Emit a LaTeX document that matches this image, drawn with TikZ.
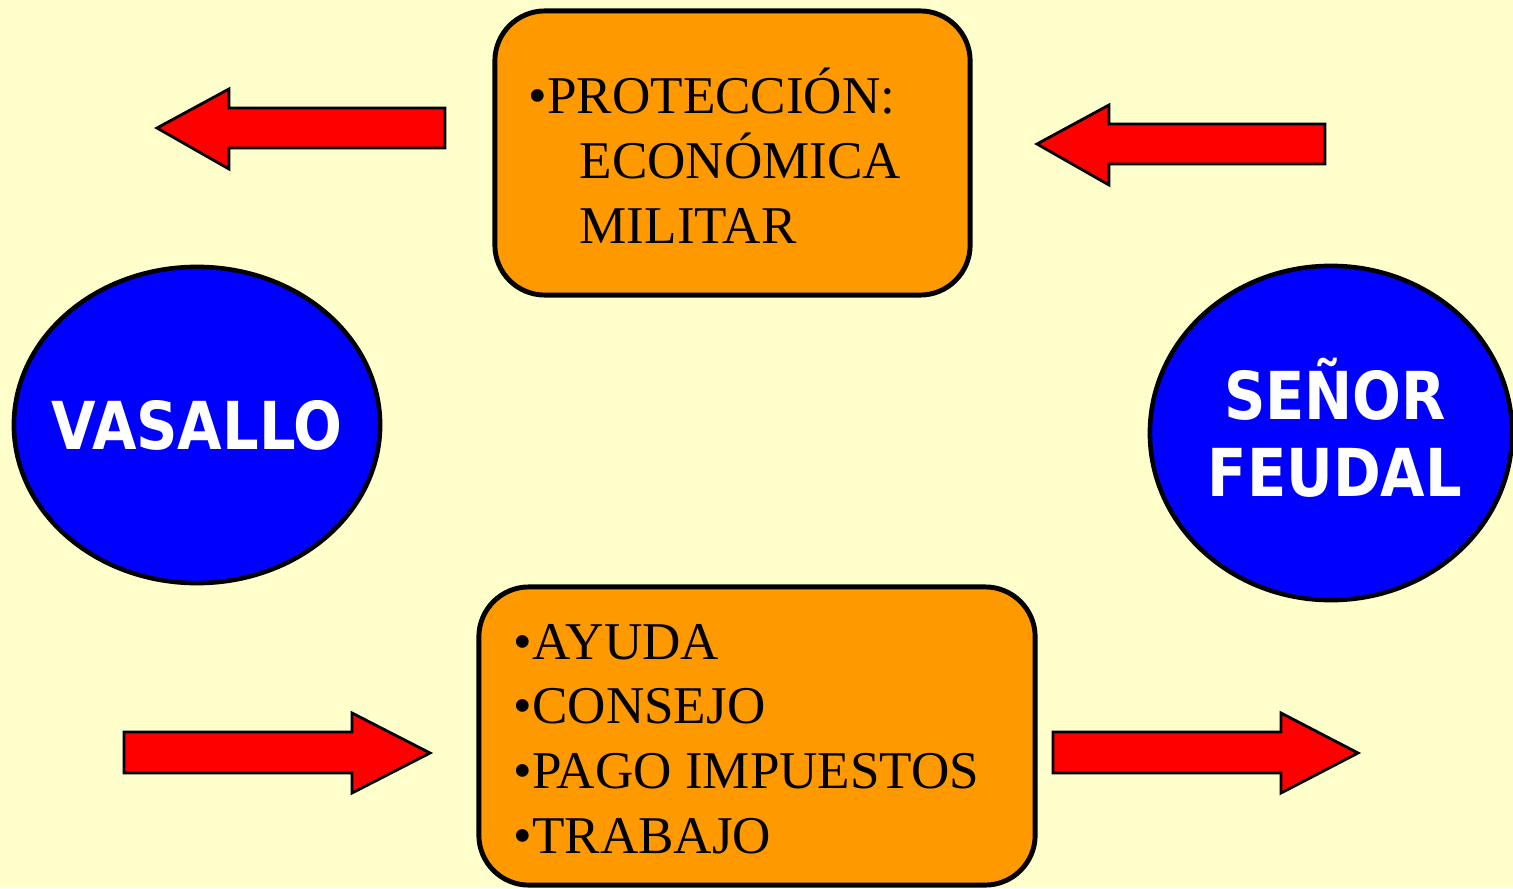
\documentclass[tikz,border=0pt]{standalone}
\usepackage{fontspec}
\setmainfont{Liberation Serif}
\newfontfamily\rotulo{DejaVu Sans}[FakeStretch=0.87]
\usetikzlibrary{shapes.geometric}
\definecolor{fondo}{HTML}{FFFFCC}
\definecolor{naranja}{HTML}{FF9900}
\definecolor{azul}{HTML}{0000FF}
\definecolor{rojo}{HTML}{FF0000}
\tikzset{
  caja/.style={draw=black, line width=1.4pt, fill=naranja, rounded corners=0.5cm, inner sep=0pt},
  persona/.style={ellipse, draw=black, line width=1.3pt, fill=azul, inner sep=0pt},
  nombre/.style={text=white, inner sep=0pt, align=center,
    font=\rotulo\bfseries\fontsize{18.8pt}{21.9pt}\selectfont},
  lista/.style={anchor=base west, align=left, inner sep=0pt, font=\fontsize{15.1pt}{18.35pt}\selectfont},
  flecha/.style={draw=black, line width=0.8pt, fill=rojo, line join=miter},
}

\begin{document}
\begin{tikzpicture}[x=0.01cm,y=-0.01cm]
	\fill[fondo] (0,0) rectangle (1513,888);
	\useasboundingbox (0,0) rectangle (1513,888);
	% cajas
	\node[caja, minimum width=4.75cm, minimum height=2.84cm] (proteccion) at (732.5,153) {};
	\node[caja, minimum width=5.56cm, minimum height=2.98cm] (deberes) at (757,736) {};
	% HOWTO: base west of a multi-line node is the baseline of its last line
	\node[lista] (protxt) at (528,243) {•PROTECCIÓN:\\\hspace*{0.51cm}ECONÓMICA\\\hspace*{0.51cm}MILITAR};
	\node[lista] (debtxt) at (513,853) {•AYUDA\\•CONSEJO\\•PAGO IMPUESTOS\\•TRABAJO};
	% personajes
	\node[persona, minimum width=3.66cm, minimum height=3.16cm] (vasallo) at (197,425) {};
	\node[persona, minimum width=3.62cm, minimum height=3.34cm] (senor) at (1331,433) {};
	\node[nombre] (vastxt) at (vasallo.center) {VASALLO};
	\node[nombre, xshift=0.04cm, yshift=0.05cm] (sentxt) at (senor.center) {SEÑOR\\FEUDAL};
	% flechas
	\draw[flecha] (445,108) -- (229,108) -- (229,89) -- (157,128) -- (229,169) -- (229,148) -- (445,148) -- cycle;
	\draw[flecha] (1325,124) -- (1109,124) -- (1109,105) -- (1037,144) -- (1109,185) -- (1109,164) -- (1325,164) -- cycle;
	\draw[flecha] (124,732) -- (352,732) -- (352,713) -- (430,753) -- (352,793) -- (352,773) -- (124,773) -- cycle;
	\draw[flecha] (1053,732) -- (1281,732) -- (1281,713) -- (1358,753) -- (1281,793) -- (1281,773) -- (1053,773) -- cycle;
\end{tikzpicture}
\end{document}
